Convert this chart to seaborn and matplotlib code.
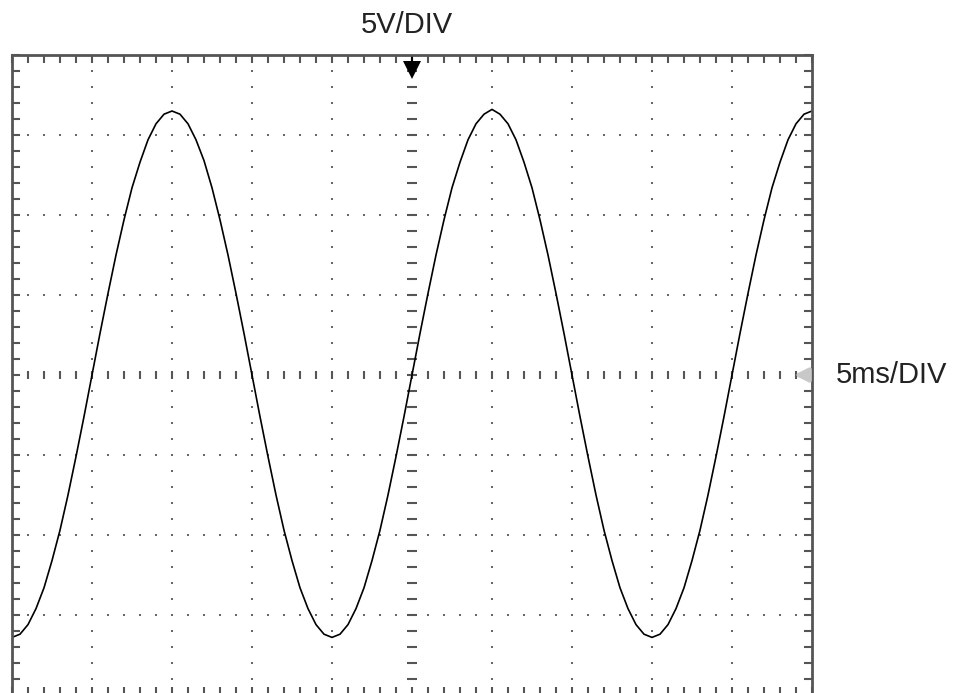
import numpy as np
import matplotlib
matplotlib.use('Agg')
import matplotlib.pyplot as plt
import seaborn as sns

# Trace, one sample every 0.5 ms (5 ms/DIV, 5 V/DIV)
time_ms = [i * 0.5 for i in range(0, 101)]
volts = [-16.4, -16.2, -15.6, -14.6, -13.3, -11.6, -9.7, -7.5, -5.1, -2.6,
         0.0, 2.6, 5.1, 7.5, 9.7, 11.7, 13.3, 14.7, 15.7, 16.3,
         16.5, 16.3, 15.7, 14.7, 13.4, 11.7, 9.7, 7.5, 5.1, 2.6,
         0.0, -2.6, -5.1, -7.5, -9.7, -11.6, -13.3, -14.6, -15.6, -16.2,
         -16.4, -16.2, -15.6, -14.6, -13.3, -11.6, -9.7, -7.5, -5.1, -2.6,
         0.0, 2.6, 5.1, 7.5, 9.7, 11.7, 13.3, 14.7, 15.7, 16.3,
         16.6, 16.3, 15.7, 14.7, 13.3, 11.7, 9.7, 7.5, 5.1, 2.6,
         0.0, -2.6, -5.1, -7.5, -9.7, -11.6, -13.3, -14.6, -15.6, -16.2,
         -16.4, -16.2, -15.6, -14.6, -13.3, -11.6, -9.7, -7.5, -5.1, -2.6,
         0.0, 2.6, 5.1, 7.5, 9.7, 11.7, 13.3, 14.7, 15.7, 16.3,
         16.5]

volt_label = '5V/DIV'
time_label = '5ms/DIV'

sns.set_style('white')
plt.rcParams['font.family'] = ['Liberation Sans', 'DejaVu Sans']

fig = plt.figure(figsize=(9.66, 6.93), dpi=100)
ax = fig.add_axes([12 / 966, -2 / 693, 800 / 966, 640 / 693])

frame = '#555555'
dots = '#666666'

# dotted division grid
div_x = [5, 10, 15, 20, 30, 35, 40, 45]
div_y = [-15, -10, -5, 5, 10, 15]
fine_x = np.arange(1, 50)
fine_y = np.arange(-19, 20)
for gx in div_x:
    ax.plot([gx] * len(fine_y), fine_y, ls='none', marker='s', ms=1.5,
            color=dots, mew=0)
for gy in div_y:
    ax.plot(fine_x, [gy] * len(fine_x), ls='none', marker='s', ms=1.5,
            color=dots, mew=0)

# centre graticule with small dashes
ax.plot([25] * len(fine_y), fine_y, ls='none', marker='_', ms=7,
        mew=1.5, color=frame)
ax.plot(fine_x, [0] * len(fine_x), ls='none', marker='|', ms=6,
        mew=1.5, color=frame)

# the trace
sns.lineplot(x=time_ms, y=volts, ax=ax, color='black', linewidth=1.2)

# trigger / level markers
ax.plot([25, 25], [20, 19.4], color='black', lw=1.5)
ax.plot(25, 19.05, marker='v', ms=13, color='black', mew=0)
ax.annotate('', xy=(48.7, 0), xytext=(50, 0),
            arrowprops=dict(arrowstyle='-|>', color='#c8c8c8', lw=3,
                            mutation_scale=20))

ax.set_xlim(0, 50)
ax.set_ylim(-20, 20)
ax.set_xticks(np.arange(0, 51, 5))
ax.set_xticks(np.arange(0, 51, 1), minor=True)
ax.set_yticks(np.arange(-20, 21, 5))
ax.set_yticks(np.arange(-20, 21, 1), minor=True)
ax.tick_params(which='both', direction='in', length=6, width=1.5,
               color=frame, top=True, right=True, bottom=True, left=True,
               labelbottom=False, labelleft=False)
ax.set_xlabel('')
ax.set_ylabel('')
for side in ax.spines.values():
    side.set_color(frame)
    side.set_linewidth(2)

fig.text(407 / 966, 1 - 25 / 693, volt_label, ha='center', va='center',
         fontsize=21, color='#222222')
fig.text(836 / 966, 1 - 375 / 693, time_label, ha='left', va='center',
         fontsize=21, color='#222222')

fig.savefig('out.png', dpi=100)
